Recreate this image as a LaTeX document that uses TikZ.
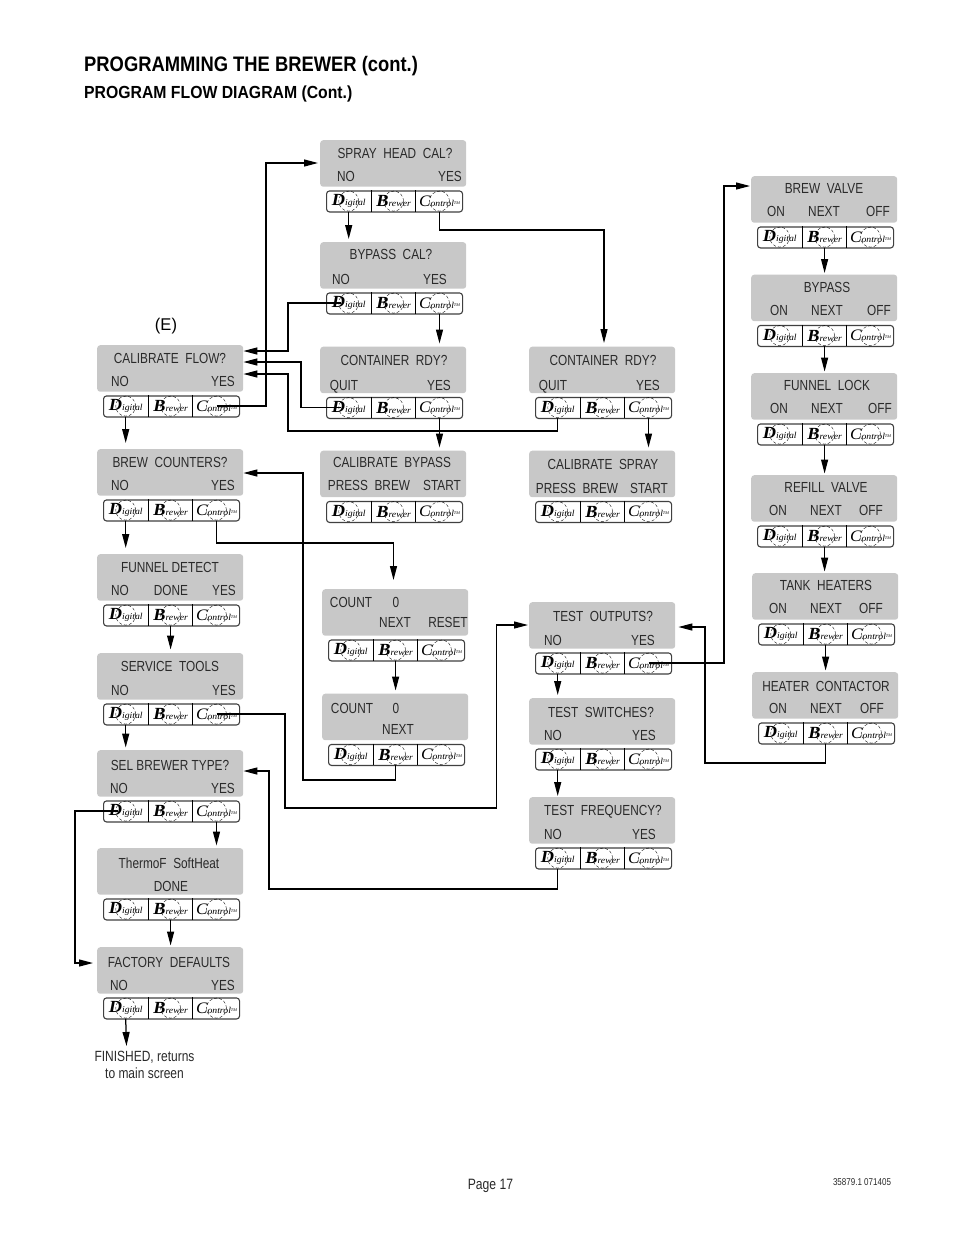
\documentclass[tikz,border=0pt]{standalone}
\usepackage{fontspec}
\usetikzlibrary{arrows.meta,calc}
\setmainfont[FakeStretch=0.81]{Liberation Sans}
\newfontfamily\logofont[FakeStretch=1.08]{Liberation Serif}
\definecolor{lcdgray}{HTML}{C8C8C8}
\definecolor{inkgray}{HTML}{2A2A2A}
\tikzset{
  lcd/.style={fill=lcdgray,rounded corners=3pt,minimum width=146pt,minimum height=46.5pt,inner sep=0pt,anchor=north west},
  panel/.style={draw=black!75,line width=1.1pt,fill=white,rounded corners=3pt,minimum width=136pt,minimum height=21pt,inner sep=0pt,anchor=north west},
  cell/.style={minimum height=21pt,inner sep=0pt,anchor=north west},
  txt/.style={inner sep=0pt,anchor=base,text=inkgray,font=\fontsize{14.6}{14.6}\selectfont},
  divider/.style={line width=1.1pt,black},
  ring/.style={line width=0.35pt,densely dashed,black},
  flow/.style={line width=1.25pt,black,line join=miter,-{Triangle[length=14pt,width=7pt]}},
}
\newcounter{lblc}
\newcommand{\lbl}[3]{\stepcounter{lblc}\node[txt] (t\thelblc) at (#1,#2+5) {#3};}
\newcommand{\logoD}{{\logofont\itshape{\fontsize{17}{17}\selectfont\bfseries D}{\fontsize{9}{9}\selectfont igital}}}
\newcommand{\logoB}{{\logofont\itshape{\fontsize{17}{17}\selectfont\bfseries B}{\fontsize{9}{9}\selectfont rewer}}}
\newcommand{\logoC}{{\logofont\itshape{\fontsize{16}{16}\selectfont C}{\fontsize{9}{9}\selectfont ontrol}{\fontsize{4}{4}\selectfont\raisebox{2pt}{TM}}}}
% name, x, y of the grey display
\newcommand{\dbunit}[3]{%
  \node[lcd] (#1) at (#2,#3) {};
  \node[panel] (#1-p) at ([shift={(6pt,-3.5pt)}]#1.south west) {};
  \node[cell,minimum width=45pt] (#1-d) at (#1-p.north west) {\logoD};
  \node[cell,minimum width=44pt] (#1-b) at (#1-d.north east) {\logoB};
  \node[cell,minimum width=47pt] (#1-c) at (#1-b.north east) {\logoC};
  \draw[divider] (#1-d.north east) -- (#1-d.south east);
  \draw[divider] (#1-b.north east) -- (#1-b.south east);
  \draw[ring] (#1-d.center) circle (10pt);
  \draw[ring] (#1-b.center) circle (10pt);
  \draw[ring] (#1-c.center) circle (10pt);
}
\newcommand{\vflow}[3][3]{\draw[flow] (#2.south) -- ([yshift=#1pt]#2.south |- #3.north);}
\begin{document}
\begin{tikzpicture}[x=1pt,y=-1pt]
\useasboundingbox (0,0) rectangle (954,1235);
\fill[white] (0,0) rectangle (954,1235);

\node[inner sep=0pt,anchor=base west,text=black,xscale=1.08,font=\fontsize{21}{21}\selectfont\bfseries] (title) at (84,71) {PROGRAMMING THE BREWER (cont.)};
\node[inner sep=0pt,anchor=base west,text=black,xscale=1.113,font=\fontsize{17.5}{17.5}\selectfont\bfseries] (subtitle) at (84,98) {PROGRAM FLOW DIAGRAM (Cont.)};

\dbunit{cal}{97}{345}
\dbunit{brew}{97}{449}
\dbunit{fun}{97}{554}
\dbunit{serv}{97}{653}
\dbunit{sel}{97}{750}
\dbunit{therm}{97}{848}
\dbunit{fact}{97}{947}
\dbunit{spray}{320}{140}
\dbunit{byp}{320}{242}
\dbunit{cont}{320}{346.5}
\dbunit{cbyp}{320}{450.5}
\dbunit{cnta}{322}{589}
\dbunit{cntb}{322}{693.5}
\dbunit{contb}{529}{346.5}
\dbunit{cspr}{529}{450.5}
\dbunit{tout}{529}{602}
\dbunit{tsw}{529}{698}
\dbunit{tfr}{529}{797}
\dbunit{bv}{751}{176}
\dbunit{bypv}{751}{274.5}
\dbunit{fl}{751}{373}
\dbunit{rv}{751}{475}
\dbunit{th}{752}{573}
\dbunit{hc}{752}{672}

\lbl{170}{358}{CALIBRATE\ \ FLOW?}\lbl{120}{381}{NO}\lbl{223}{381}{YES}
\lbl{170}{462}{BREW\ \ COUNTERS?}\lbl{120}{485}{NO}\lbl{223}{485}{YES}
\lbl{170}{567}{FUNNEL DETECT}\lbl{120}{590}{NO}\lbl{171}{590}{DONE}\lbl{224}{590}{YES}
\lbl{170}{666}{SERVICE\ \ TOOLS}\lbl{120}{690}{NO}\lbl{224}{690}{YES}
\lbl{170}{765}{SEL BREWER TYPE?}\lbl{119}{788}{NO}\lbl{223}{788}{YES}
\lbl{169}{863}{ThermoF\ \ SoftHeat}\lbl{171}{886}{DONE}
\lbl{169}{962}{FACTORY\ \ DEFAULTS}\lbl{119}{985}{NO}\lbl{223}{985}{YES}
\lbl{395}{153}{SPRAY\ \ HEAD\ \ CAL?}\lbl{346}{176}{NO}\lbl{450}{176}{YES}
\lbl{391}{254}{BYPASS\ \ CAL?}\lbl{341}{279}{NO}\lbl{435}{279}{YES}
\lbl{394}{360}{CONTAINER\ \ RDY?}\lbl{344}{385}{QUIT}\lbl{439}{385}{YES}
\lbl{392}{462}{CALIBRATE\ \ BYPASS}\lbl{369}{485}{PRESS\ \ BREW}\lbl{442}{485}{START}
\lbl{351}{602}{COUNT}\lbl{396}{602}{0}\lbl{395}{622}{NEXT}\lbl{448}{622}{RESET}
\lbl{352}{708}{COUNT}\lbl{396}{708}{0}\lbl{398}{729}{NEXT}
\lbl{603}{360}{CONTAINER\ \ RDY?}\lbl{553}{385}{QUIT}\lbl{648}{385}{YES}
\lbl{603}{464}{CALIBRATE\ \ SPRAY}\lbl{577}{488}{PRESS\ \ BREW}\lbl{649}{488}{START}
\lbl{603}{616}{TEST\ \ OUTPUTS?}\lbl{553}{640}{NO}\lbl{643}{640}{YES}
\lbl{601}{712}{TEST\ \ SWITCHES?}\lbl{553}{735}{NO}\lbl{644}{735}{YES}
\lbl{603}{810}{TEST\ \ FREQUENCY?}\lbl{553}{834}{NO}\lbl{644}{834}{YES}
\lbl{824}{188}{BREW\ \ VALVE}\lbl{776}{211}{ON}\lbl{824}{211}{NEXT}\lbl{878}{211}{OFF}
\lbl{827}{287}{BYPASS}\lbl{779}{310}{ON}\lbl{827}{310}{NEXT}\lbl{879}{310}{OFF}
\lbl{827}{385}{FUNNEL\ \ LOCK}\lbl{779}{408}{ON}\lbl{827}{408}{NEXT}\lbl{880}{408}{OFF}
\lbl{826}{487}{REFILL\ \ VALVE}\lbl{778}{510}{ON}\lbl{826}{510}{NEXT}\lbl{871}{510}{OFF}
\lbl{826}{585}{TANK\ \ HEATERS}\lbl{778}{608}{ON}\lbl{826}{608}{NEXT}\lbl{871}{608}{OFF}
\lbl{826}{686}{HEATER\ \ CONTACTOR}\lbl{778}{708}{ON}\lbl{826}{708}{NEXT}\lbl{872}{708}{OFF}

\node[inner sep=0pt,text=black,font=\fontsize{17}{17}\selectfont,xscale=1.2] (e) at (166,326) {(E)};
\node[inner sep=0pt,align=center,text=inkgray,font=\fontsize{14.8}{17}\selectfont] (fin) at (144.5,1064.5) {FINISHED, returns\\to main screen};
\node[inner sep=0pt,anchor=base,text=inkgray,font=\fontsize{15}{15}\selectfont] (page) at (490.5,1189) {Page 17};
\node[inner sep=0pt,anchor=base,text=inkgray,font=\fontsize{9.9}{10}\selectfont] (docno) at (862,1185) {35879.1 071405};
\coordinate (finend) at (126.5,1046);

% straight drops
\vflow[6]{cal-d}{brew}
\vflow[6]{brew-d}{fun}
\vflow[3.5]{fun-b}{serv}
\vflow[2.5]{serv-d}{sel}
\vflow[2.5]{sel-c}{therm}
\vflow[1.5]{therm-b}{fact}
\draw[flow] (fact-d.south) -- (finend);
\vflow{spray-d}{byp}
\vflow{byp-c}{cont}
\vflow{cont-c}{cbyp}
\vflow{contb-c}{cspr}
\vflow{cnta-b}{cntb}
\vflow{tout-d}{tsw}
\vflow[1]{tsw-d}{tfr}
\vflow[1.5]{bv-b}{bypv}
\vflow[1.5]{bypv-b}{fl}
\vflow[1.5]{fl-b}{rv}
\vflow[1.5]{rv-b}{th}
\vflow[1.5]{th-b}{hc}

% routed connectors
\draw[flow] (cal-c.center) -| (266,163) -- ([xshift=-2pt]spray.west |- 266,163);
\draw[flow] (spray-c.south) |- (604,230) -- (604,343);
\draw[flow] ([xshift=-8pt]byp-d.center) -| (288,351) -- (cal.east |- 288,351);
\draw[flow] ([xshift=-8pt]cont-d.center) -| (301,362) -- (cal.east |- 301,362);
\draw[flow] (contb-d.south) |- (288,431) -- (288,374) -- (cal.east |- 288,374);
\draw[flow] (brew-c.south) |- (393.5,543) -- (393.5,580);
\draw[flow] (cntb-b.south) |- (303,780) -- (303,473) -- (brew.east |- 303,473);
\draw[flow] (serv-c.center) -| (285,808) -| (496.5,625) -- ([xshift=-1pt]tout.west |- 496.5,625);
\draw[flow] ([xshift=-8pt]sel-d.center) -| (75,963) -- ([xshift=-4pt]fact.west |- 75,963);
\draw[flow] (tfr-d.south) |- (269,889) -- (269,771) -- (sel.east |- 269,771);
\draw[flow] (tout-c.center) -| (724,186) -- ([xshift=-1pt]bv.west |- 724,186);
\draw[flow] (hc-b.south) |- (705,763) -- (705,627) -- ([xshift=3pt]tout.east |- 705,627);
\end{tikzpicture}
\end{document}
